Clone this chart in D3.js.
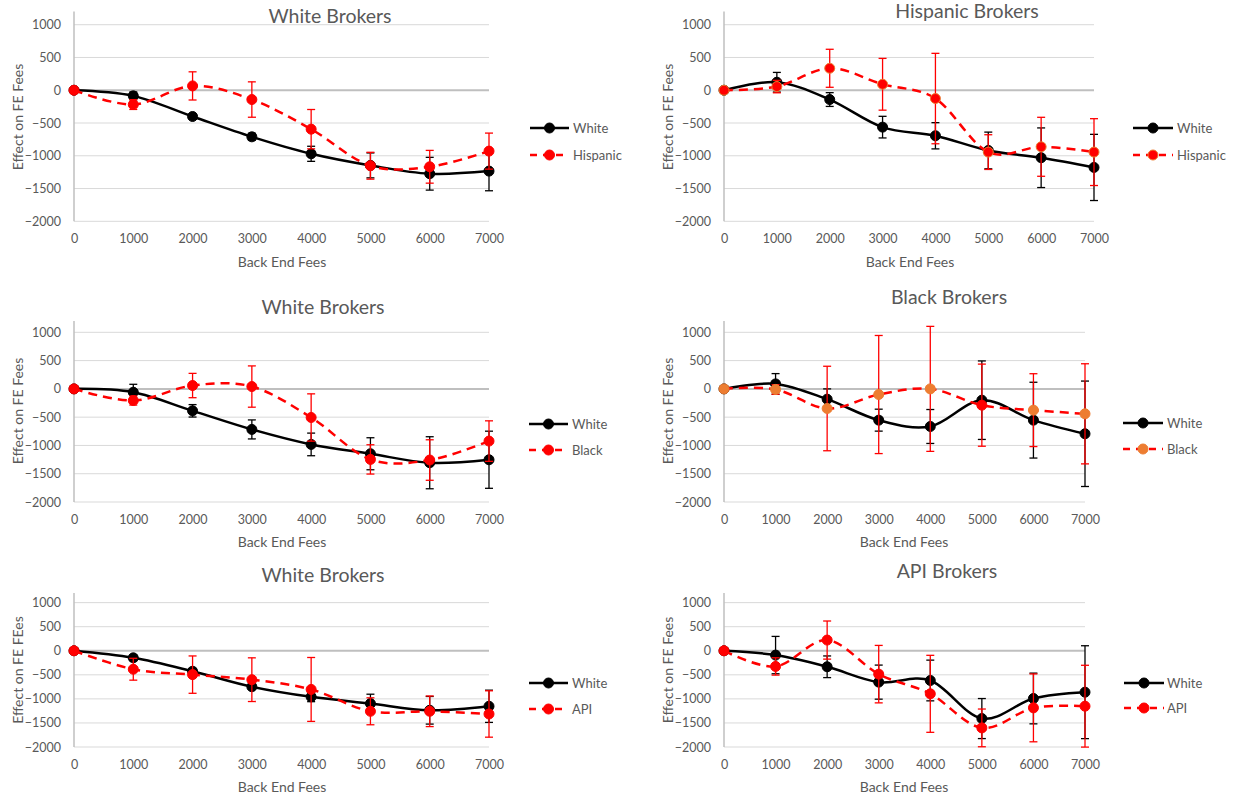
<!DOCTYPE html>
<html>
<head>
<meta charset="utf-8">
<script src="https://cdn.jsdelivr.net/npm/d3@7"></script>
<style>
  body { margin: 0; background: #fff; }
  text { font-family: Lato, "Liberation Sans", sans-serif; fill: #595959; }
  .tick text { font-size: 12.5px; fill: #595959; }
  .title { font-size: 19.5px; }
  .label { font-size: 14px; }
  .legend text { font-size: 13px; }
</style>
</head>
<body>
<svg id="chart"></svg>
<script>
// shared axes
var fees = [0, 1000, 2000, 3000, 4000, 5000, 6000, 7000];
var yTicks = [-2000, -1500, -1000, -500, 0, 500, 1000];

// panel 1 : White Brokers (White vs Hispanic)
var p1White = [0, -86, -401, -711, -970, -1147, -1274, -1234];
var p1WhiteErr = [0, 60, 30, 55, 115, 190, 250, 300];
var p1Hisp = [0, -218, 66, -142, -594, -1152, -1168, -929];
var p1HispErr = [0, 75, 215, 270, 300, 205, 250, 275];

// panel 2 : Hispanic Brokers
var p2White = [0, 122, -142, -563, -695, -919, -1030, -1178];
var p2WhiteErr = [0, 150, 105, 165, 200, 280, 455, 505];
var p2Hisp = [0, 56, 335, 91, -127, -944, -863, -944];
var p2HispErr = [0, 95, 290, 395, 690, 265, 450, 510];

// panel 3 : White Brokers (White vs Black)
var p3White = [0, -59, -388, -717, -982, -1147, -1306, -1253];
var p3WhiteErr = [0, 140, 110, 168, 200, 283, 460, 505];
var p3Black = [0, -206, 59, 41, -506, -1247, -1258, -923];
var p3BlackErr = [0, 80, 215, 365, 418, 259, 358, 358];

// panel 4 : Black Brokers
var p4White = [0, 88, -182, -553, -665, -200, -553, -794];
var p4WhiteErr = [0, 182, 182, 194, 300, 694, 670, 932];
var p4Black = [0, -10, -347, -100, 0, -288, -376, -441];
var p4BlackErr = [0, 85, 747, 1044, 1105, 726, 644, 885];

// panel 5 : White Brokers (White vs API)
var p5White = [0, -147, -426, -748, -958, -1098, -1237, -1154];
var p5WhiteErr = [0, 60, 60, 50, 100, 195, 287, 335];
var p5Api = [0, -384, -496, -601, -804, -1258, -1258, -1314];
var p5ApiErr = [0, 227, 388, 454, 664, 280, 318, 482];

// panel 6 : API Brokers
var p6White = [0, -90, -333, -652, -618, -1409, -992, -861];
var p6WhiteErr = [0, 388, 225, 354, 423, 416, 527, 965];
var p6Api = [0, -326, 222, -486, -895, -1603, -1187, -1152];
var p6ApiErr = [0, 180, 396, 597, 800, 392, 705, 850];

var screen = { width: 1235, height: 802 };
var svg = d3.select("#chart").attr("width", screen.width).attr("height", screen.height);

var black = { color: "#000", dash: null, fill: "#000", stroke: "#000" };
var red = { color: "#ff0000", dash: "9,6", fill: "#ff0000", stroke: "#ff0000" };
var redOrange = { color: "#ff0000", dash: "9,6", fill: "#ff0000", stroke: "#ed7d31" };
var orange = { color: "#ff0000", dash: "9,6", fill: "#ed7d31", stroke: "#ed7d31" };

var panels = [
  { title: "White Brokers", ytitle: "Effect on FE Fees", x0: 74, x1: 489, top: 11.6, bottom: 221.3,
    titleX: 330, titleY: 23, axisX: 282, axisY: 267, ylabX: 18, ylabY: 117,
    leg: { x0: 530, x1: 569, tx: 573, y1: 128, y2: 155 },
    series: [{ name: "White", vals: p1White, err: p1WhiteErr, st: black },
             { name: "Hispanic", vals: p1Hisp, err: p1HispErr, st: red }] },
  { title: "Hispanic Brokers", ytitle: "Effect on FE Fees", x0: 724, x1: 1094, top: 11.6, bottom: 221.3,
    titleX: 967, titleY: 18, axisX: 910, axisY: 267, ylabX: 668, ylabY: 117,
    leg: { x0: 1133, x1: 1173, tx: 1177, y1: 128, y2: 155 },
    series: [{ name: "White", vals: p2White, err: p2WhiteErr, st: black },
             { name: "Hispanic", vals: p2Hisp, err: p2HispErr, st: redOrange }] },
  { title: "White Brokers", ytitle: "Effect on FE Fees", x0: 74, x1: 489, top: 321, bottom: 502,
    titleX: 323, titleY: 314, axisX: 282, axisY: 547, ylabX: 18, ylabY: 411,
    leg: { x0: 529, x1: 568, tx: 572, y1: 424, y2: 450 },
    series: [{ name: "White", vals: p3White, err: p3WhiteErr, st: black },
             { name: "Black", vals: p3Black, err: p3BlackErr, st: red }] },
  { title: "Black Brokers", ytitle: "Effect on FE Fees", x0: 724, x1: 1085, top: 321, bottom: 502,
    titleX: 949, titleY: 304, axisX: 904, axisY: 547, ylabX: 668, ylabY: 411,
    leg: { x0: 1123, x1: 1163, tx: 1167, y1: 423, y2: 449 },
    series: [{ name: "White", vals: p4White, err: p4WhiteErr, st: black },
             { name: "Black", vals: p4Black, err: p4BlackErr, st: orange, redAt: [5000] }] },
  { title: "White Brokers", ytitle: "Effect on FE FEes", x0: 74, x1: 489, top: 593, bottom: 747,
    titleX: 323, titleY: 582, axisX: 282, axisY: 792, ylabX: 18, ylabY: 670,
    leg: { x0: 529, x1: 568, tx: 572, y1: 683, y2: 709 },
    series: [{ name: "White", vals: p5White, err: p5WhiteErr, st: black },
             { name: "API", vals: p5Api, err: p5ApiErr, st: red }] },
  { title: "API Brokers", ytitle: "Effect on FE Fees", x0: 724, x1: 1085, top: 593, bottom: 747,
    titleX: 947, titleY: 578, axisX: 904, axisY: 792, ylabX: 668, ylabY: 670,
    leg: { x0: 1124, x1: 1164, tx: 1167, y1: 683, y2: 708 },
    series: [{ name: "White", vals: p6White, err: p6WhiteErr, st: black },
             { name: "API", vals: p6Api, err: p6ApiErr, st: red }] }
];

var drawPanel = function (p) {
  var g = svg.append("g").classed("panel", true);
  var x = d3.scaleLinear().domain([0, 7000]).range([p.x0, p.x1]);
  var y = d3.scaleLinear().domain([-2000, 1200]).range([p.bottom, p.top]);

  // gridlines
  g.append("g")
    .selectAll("line")
    .data(yTicks.filter(function (v) { return v !== 0; }))
    .enter()
    .append("line")
    .attr("x1", x(0)).attr("x2", x(7000))
    .attr("y1", function (v) { return y(v); })
    .attr("y2", function (v) { return y(v); })
    .attr("stroke", "#d9d9d9").attr("stroke-width", 1);

  // y axis line
  g.append("line")
    .attr("x1", x(0)).attr("x2", x(0))
    .attr("y1", y(1200)).attr("y2", y(-2000))
    .attr("stroke", "#bfbfbf").attr("stroke-width", 1.5);

  // zero line
  g.append("line")
    .attr("x1", x(0)).attr("x2", x(7000))
    .attr("y1", y(0)).attr("y2", y(0))
    .attr("stroke", "#bfbfbf").attr("stroke-width", 2);

  var yAxis = d3.axisLeft(y).tickValues(yTicks).tickSize(0).tickPadding(13).tickFormat(d3.format("d"));
  var yg = g.append("g").attr("transform", "translate(" + x(0) + ",0)").call(yAxis);
  yg.select(".domain").remove();
  yg.selectAll("text").attr("font-family", null).attr("font-size", null);

  var xAxis = d3.axisBottom(x).tickValues(fees).tickSize(0).tickPadding(13).tickFormat(d3.format("d"));
  var xg = g.append("g").attr("transform", "translate(0," + y(-2000) + ")").call(xAxis);
  xg.select(".domain").remove();
  xg.selectAll("text").attr("font-family", null).attr("font-size", null);

  // labels
  g.append("text").text(p.title).classed("title", true)
    .attr("text-anchor", "middle").attr("x", p.titleX).attr("y", p.titleY);
  g.append("text").text("Back End Fees").classed("label", true)
    .attr("text-anchor", "middle").attr("x", p.axisX).attr("y", p.axisY);
  g.append("g")
    .attr("transform", "translate(" + p.ylabX + "," + p.ylabY + ")")
    .append("text").text(p.ytitle).classed("label", true)
    .attr("text-anchor", "middle").attr("dy", "0.35em")
    .attr("transform", "rotate(-90)");

  var line = d3.line()
    .x(function (d) { return x(d.fee); })
    .y(function (d) { return y(d.v); })
    .curve(d3.curveCardinal.tension(0));

  p.series.forEach(function (s) {
    var pts = fees.map(function (f, i) { return { fee: f, v: s.vals[i], e: s.err[i] }; });
    var sg = g.append("g");

    sg.append("path").datum(pts)
      .attr("d", line)
      .attr("fill", "none")
      .attr("stroke", s.st.color)
      .attr("stroke-width", 2.5)
      .attr("stroke-dasharray", s.st.dash);

    // error bars
    var eb = sg.selectAll(".err").data(pts.filter(function (d) { return d.e > 0; }))
      .enter().append("g").classed("err", true);
    eb.append("line")
      .attr("x1", function (d) { return x(d.fee); })
      .attr("x2", function (d) { return x(d.fee); })
      .attr("y1", function (d) { return y(d.v + d.e); })
      .attr("y2", function (d) { return y(d.v - d.e); });
    eb.append("line")
      .attr("x1", function (d) { return x(d.fee) - 4; })
      .attr("x2", function (d) { return x(d.fee) + 4; })
      .attr("y1", function (d) { return y(d.v + d.e); })
      .attr("y2", function (d) { return y(d.v + d.e); });
    eb.append("line")
      .attr("x1", function (d) { return x(d.fee) - 4; })
      .attr("x2", function (d) { return x(d.fee) + 4; })
      .attr("y1", function (d) { return y(d.v - d.e); })
      .attr("y2", function (d) { return y(d.v - d.e); });
    eb.selectAll("line").attr("stroke", s.st.color).attr("stroke-width", 1.3);

    sg.selectAll("circle").data(pts).enter().append("circle")
      .attr("cx", function (d) { return x(d.fee); })
      .attr("cy", function (d) { return y(d.v); })
      .attr("r", 5)
      .attr("fill", function (d) {
        return s.redAt && s.redAt.indexOf(d.fee) >= 0 ? "#ff0000" : s.st.fill;
      })
      .attr("stroke", function (d) {
        return s.redAt && s.redAt.indexOf(d.fee) >= 0 ? "#ff0000" : s.st.stroke;
      })
      .attr("stroke-width", 1);
  });

  // legend
  var lg = g.append("g").classed("legend", true);
  p.series.forEach(function (s, i) {
    var ly = i === 0 ? p.leg.y1 : p.leg.y2;
    lg.append("line")
      .attr("x1", p.leg.x0).attr("x2", p.leg.x1)
      .attr("y1", ly).attr("y2", ly)
      .attr("stroke", s.st.color).attr("stroke-width", 2.5)
      .attr("stroke-dasharray", s.st.dash ? "7,6" : null);
    lg.append("circle")
      .attr("cx", (p.leg.x0 + p.leg.x1) / 2).attr("cy", ly).attr("r", 5)
      .attr("fill", s.st.fill).attr("stroke", s.st.stroke);
    lg.append("text").text(s.name)
      .attr("x", p.leg.tx).attr("y", ly).attr("dy", "0.35em");
  });
};

panels.forEach(drawPanel);
</script>
</body>
</html>
